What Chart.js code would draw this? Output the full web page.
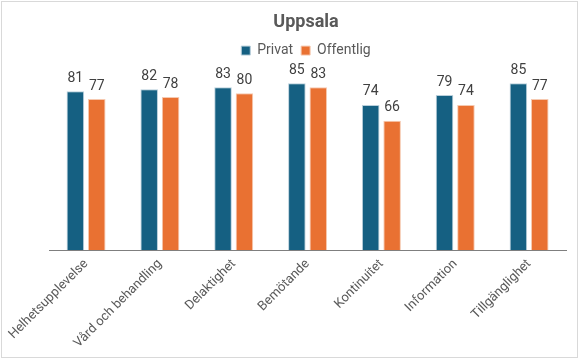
<!DOCTYPE html>
<html>
<head>
<meta charset="utf-8">
<script src="https://cdn.jsdelivr.net/npm/chart.js@4"></script>
<style>
  body { margin: 0; background: #fff; }
  #wrap { position: absolute; left: 1px; top: 1px; width: 575px; height: 355px; border: 1px solid #d9d9d9; }
</style>
</head>
<body>
<div id="wrap"><canvas id="chart" width="575" height="355"></canvas></div>
<script>
// Kategorier och värden (Uppsala)
const kategorier = ['Helhetsupplevelse', 'Vård och behandling', 'Delaktighet', 'Bemötande', 'Kontinuitet', 'Information', 'Tillgänglighet'];
const privat = [81, 82, 83, 85, 74, 79, 85];
const offentlig = [77, 78, 80, 83, 66, 74, 77];

const FONT = "'Liberation Sans Narrow', Roboto, sans-serif";

// Petit plugin maison pour écrire la valeur au-dessus de chaque barre
const etiquettes = {
    id: 'etiquettes',
    afterDatasetsDraw(chart) {
        const ctx = chart.ctx;
        ctx.save();
        ctx.font = '14px ' + FONT;
        ctx.fillStyle = '#404040';
        ctx.textAlign = 'center';
        ctx.textBaseline = 'bottom';
        chart.data.datasets.forEach((ds, i) => {
            chart.getDatasetMeta(i).data.forEach((bar, j) => {
                ctx.fillText(ds.data[j], bar.x, bar.y - 6);
            });
        });
        ctx.restore();
    }
};

new Chart(document.getElementById('chart').getContext('2d'), {
    type: 'bar',
    data: {
        labels: kategorier,
        datasets: [{
            label: 'Privat',
            data: privat,
            backgroundColor: '#156082',
            borderColor: '#b9cfdb',
            borderWidth: 1,
            barPercentage: 0.82,
            categoryPercentage: 0.58
        }, {
            label: 'Offentlig',
            data: offentlig,
            backgroundColor: '#E97132',
            borderColor: '#f6c9b0',
            borderWidth: 1,
            barPercentage: 0.82,
            categoryPercentage: 0.58
        }]
    },
    options: {
        responsive: false,
        animation: false,
        layout: { padding: { left: 44, right: 11, top: 4, bottom: 0 } },
        scales: {
            y: {
                display: false,
                min: 0,
                max: 93
            },
            x: {
                grid: { display: false, drawTicks: false },
                border: { color: '#7f7f7f', width: 1 },
                ticks: {
                    minRotation: 45,
                    maxRotation: 45,
                    padding: 6,
                    color: '#595959',
                    font: { family: FONT, size: 13 }
                }
            }
        },
        plugins: {
            title: {
                display: true,
                text: 'Uppsala',
                color: '#595959',
                font: { family: FONT, size: 18, weight: 'bold' },
                padding: { top: 6, bottom: 2 }
            },
            legend: {
                position: 'top',
                labels: {
                    boxWidth: 9,
                    boxHeight: 9,
                    color: '#595959',
                    font: { family: FONT, size: 14 },
                    padding: 8
                }
            },
            tooltip: { enabled: false }
        }
    },
    plugins: [etiquettes]
});
</script>
</body>
</html>
